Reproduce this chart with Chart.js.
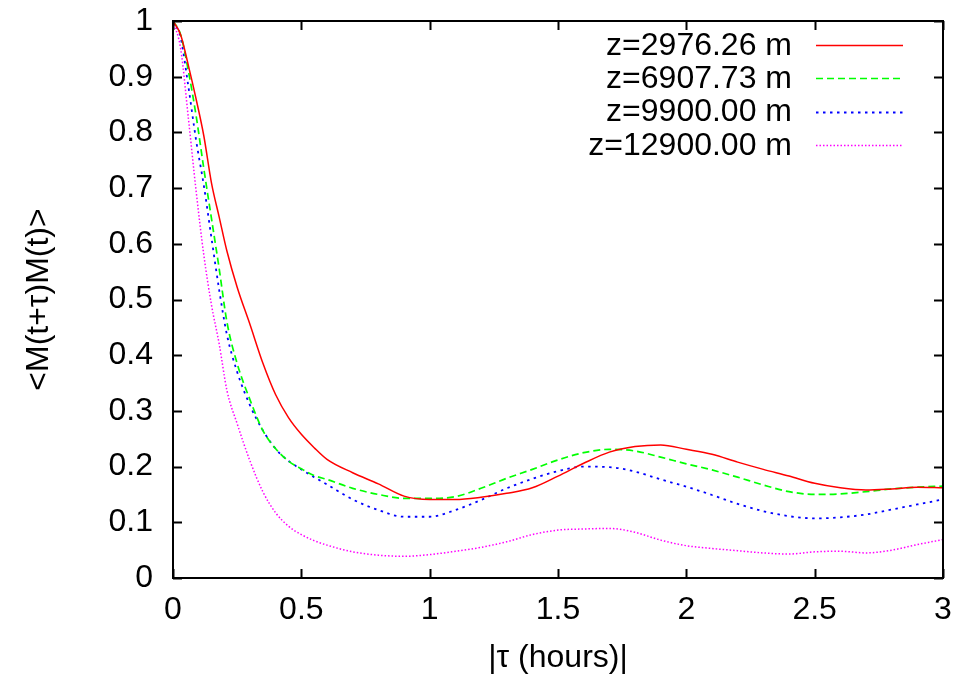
<!DOCTYPE html>
<html>
<head>
<meta charset="utf-8">
<script src="https://cdn.jsdelivr.net/npm/chart.js@4.4.1/dist/chart.umd.min.js"></script>
<style>
  html, body { margin: 0; padding: 0; background: #fff; }
  #wrap { width: 977px; height: 684px; }
</style>
</head>
<body>
<div id="wrap"><canvas id="corrChart" width="977" height="684"></canvas></div>
<script>
// lag in hours, shared by all curves
const tau = [0, 0.03, 0.06, 0.09, 0.12, 0.15, 0.18, 0.21, 0.25, 0.3, 0.35, 0.4, 0.45, 0.5, 0.55, 0.6,
             0.7, 0.8, 0.9, 1.0, 1.1, 1.2, 1.3, 1.4, 1.5, 1.6, 1.7, 1.8, 1.9, 2.0,
             2.1, 2.2, 2.3, 2.4, 2.5, 2.6, 2.7, 2.8, 2.9, 3.0];

const z2976 = [1.0, 0.975, 0.92, 0.86, 0.794, 0.709, 0.648, 0.587, 0.522, 0.455, 0.386, 0.329, 0.288, 0.258, 0.234, 0.213,
               0.189, 0.169, 0.147, 0.141, 0.141, 0.145, 0.152, 0.162, 0.183, 0.206, 0.226, 0.236, 0.239, 0.231,
               0.222, 0.208, 0.195, 0.183, 0.170, 0.162, 0.158, 0.160, 0.163, 0.162];

const z6907 = [1.0, 0.975, 0.91, 0.83, 0.735, 0.645, 0.555, 0.46, 0.385, 0.32, 0.265, 0.232, 0.21, 0.196, 0.184, 0.177,
               0.161, 0.150, 0.143, 0.143, 0.146, 0.161, 0.179, 0.195, 0.212, 0.225, 0.231, 0.228, 0.217, 0.205,
               0.194, 0.181, 0.167, 0.155, 0.150, 0.151, 0.155, 0.160, 0.163, 0.165];

const z9900 = [1.0, 0.97, 0.882, 0.786, 0.705, 0.61, 0.517, 0.437, 0.37, 0.31, 0.265, 0.232, 0.21, 0.195, 0.181, 0.168,
               0.141, 0.122, 0.110, 0.110, 0.122, 0.140, 0.161, 0.178, 0.192, 0.200, 0.199, 0.191, 0.177, 0.164,
               0.149, 0.133, 0.120, 0.111, 0.107, 0.109, 0.114, 0.123, 0.132, 0.141];

const z12900 = [1.0, 0.95, 0.825, 0.695, 0.58, 0.49, 0.42, 0.337, 0.277, 0.21, 0.155, 0.117, 0.093, 0.078, 0.067, 0.059,
                0.047, 0.041, 0.039, 0.042, 0.048, 0.055, 0.065, 0.078, 0.086, 0.088, 0.089, 0.082, 0.068, 0.058,
                0.053, 0.049, 0.045, 0.043, 0.047, 0.048, 0.045, 0.050, 0.060, 0.069];

const seriesLabels = ['z=2976.26 m', 'z=6907.73 m', 'z=9900.00 m', 'z=12900.00 m'];
const xTicks = [0, 0.5, 1, 1.5, 2, 2.5, 3];
const yTicks = [0, 0.1, 0.2, 0.3, 0.4, 0.5, 0.6, 0.7, 0.8, 0.9, 1];

const FONT = "'Liberation Sans', Arial, Helvetica, sans-serif";

function toPoints(ys) {
    return tau.map((t, i) => ({x: t, y: ys[i]}));
}

// gnuplot-like frame with ticks pointing inwards, and legend with text left of the sample
const framePlugin = {
    id: 'frame',
    afterDraw(chart) {
        const c = chart.ctx;
        const a = chart.chartArea;
        const xs = chart.scales.x, ys = chart.scales.y;
        const len = 9;
        c.save();
        c.strokeStyle = '#000';
        c.lineWidth = 2;
        c.beginPath();
        xTicks.forEach(v => {
            const px = Math.round(xs.getPixelForValue(v)) + 0.5;
            c.moveTo(px, a.bottom); c.lineTo(px, a.bottom - len);
            c.moveTo(px, a.top); c.lineTo(px, a.top + len);
        });
        yTicks.forEach(v => {
            const py = Math.round(ys.getPixelForValue(v)) + 0.5;
            c.moveTo(a.left, py); c.lineTo(a.left + len, py);
            c.moveTo(a.right, py); c.lineTo(a.right - len, py);
        });
        c.stroke();
        c.strokeRect(a.left, a.top, a.right - a.left, a.bottom - a.top);

        // legend
        c.font = '32px ' + FONT;
        c.textAlign = 'right';
        c.textBaseline = 'middle';
        chart.data.datasets.forEach((ds, i) => {
            const y = a.top + 24 + i * 33.3;
            c.fillStyle = '#000';
            c.fillText(ds.label, a.right - 151, y + 1);
            c.strokeStyle = ds.borderColor;
            c.lineWidth = ds.borderWidth;
            c.setLineDash(ds.borderDash || []);
            c.beginPath();
            c.moveTo(a.right - 127, Math.round(y) + 0.5);
            c.lineTo(a.right - 40, Math.round(y) + 0.5);
            c.stroke();
        });
        c.restore();
    }
};

const ctx = document.getElementById('corrChart').getContext('2d');

const corrChart = new Chart(ctx, {
    type: 'line',
    data: {
        datasets: [
            {label: seriesLabels[0], data: toPoints(z2976), borderColor: '#ff0000', borderWidth: 1.5, borderDash: []},
            {label: seriesLabels[1], data: toPoints(z6907), borderColor: '#00ff00', borderWidth: 1.7, borderDash: [7, 4]},
            {label: seriesLabels[2], data: toPoints(z9900), borderColor: '#0000ff', borderWidth: 1.8, borderDash: [2.5, 4.5]},
            {label: seriesLabels[3], data: toPoints(z12900), borderColor: '#ff00ff', borderWidth: 1.5, borderDash: [1.5, 2]}
        ]
    },
    options: {
        responsive: false,
        animation: false,
        layout: {padding: {top: 21, right: 34, left: 0, bottom: 0}},
        elements: {
            point: {radius: 0},
            line: {cubicInterpolationMode: 'monotone', fill: false}
        },
        plugins: {
            legend: {display: false},
            tooltip: {enabled: false}
        },
        scales: {
            x: {
                type: 'linear',
                min: 0,
                max: 3,
                afterBuildTicks: s => { s.ticks = xTicks.map(v => ({value: v})); },
                afterFit: s => { s.height = 106; s.paddingLeft = 0; s.paddingRight = 0; },
                grid: {display: false, drawTicks: false},
                border: {display: false},
                ticks: {
                    padding: 13,
                    color: '#000',
                    font: {family: FONT, size: 32},
                    callback: v => String(v)
                },
                title: {
                    display: true,
                    text: '|\u03c4 (hours)|',
                    color: '#000',
                    font: {family: FONT, size: 32},
                    padding: {top: 0, bottom: 7}
                }
            },
            y: {
                type: 'linear',
                min: 0,
                max: 1,
                afterBuildTicks: s => { s.ticks = yTicks.map(v => ({value: v})); },
                afterFit: s => { s.width = 173; s.paddingTop = 0; s.paddingBottom = 0; },
                grid: {display: false, drawTicks: false},
                border: {display: false},
                ticks: {
                    padding: 20,
                    color: '#000',
                    font: {family: FONT, size: 32},
                    callback: v => String(v)
                },
                title: {
                    display: true,
                    text: '<M(t+\u03c4)M(t)>',
                    color: '#000',
                    font: {family: FONT, size: 32},
                    padding: {top: 20, bottom: 0}
                }
            }
        }
    },
    plugins: [framePlugin]
});
</script>
</body>
</html>
